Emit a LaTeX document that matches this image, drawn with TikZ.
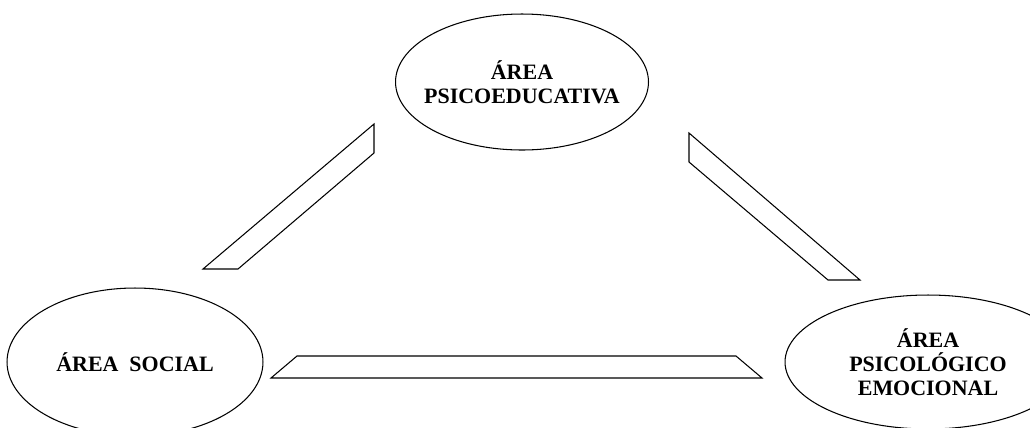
\documentclass[tikz,border=0pt]{standalone}
\usepackage{fontspec}
\setmainfont{Liberation Serif}
\usepackage{tikz}
\usetikzlibrary{shapes.geometric, positioning}

\tikzset{
  area/.style={draw, ellipse, line width=0.6pt, inner sep=0pt},
  areatext/.style={align=center, inner sep=0pt, font=\fontsize{12.5}{13.5}\selectfont\bfseries},
  link/.style={draw, line width=0.6pt, line join=miter}
}

\begin{document}
\begin{tikzpicture}[x=0.02cm, y=-0.02cm]
  \useasboundingbox (0,0) rectangle (1030,427);

  \node[area, minimum width=5.06cm, minimum height=2.72cm,
    label={[areatext]center:ÁREA\\PSICOEDUCATIVA}] (educ) at (522,82) {};
  \node[area, minimum width=5.12cm, minimum height=2.96cm,
    label={[areatext]center:ÁREA\ \ SOCIAL}] (social) at (135,362) {};
  \node[area, minimum width=5.72cm, minimum height=2.68cm,
    label={[areatext]center:ÁREA\\PSICOLÓGICO\\EMOCIONAL}] (emoc) at (928,362) {};

  % bands between the areas
  \draw[link] (203,269) -- (238,269) -- (374,153) -- (374,124) -- cycle;
  \draw[link] (689,133) -- (689,162) -- (828,280) -- (860,280) -- cycle;
  \draw[link] (271,378) -- (297,356) -- (736,356) -- (762,378) -- cycle;
\end{tikzpicture}
\end{document}
